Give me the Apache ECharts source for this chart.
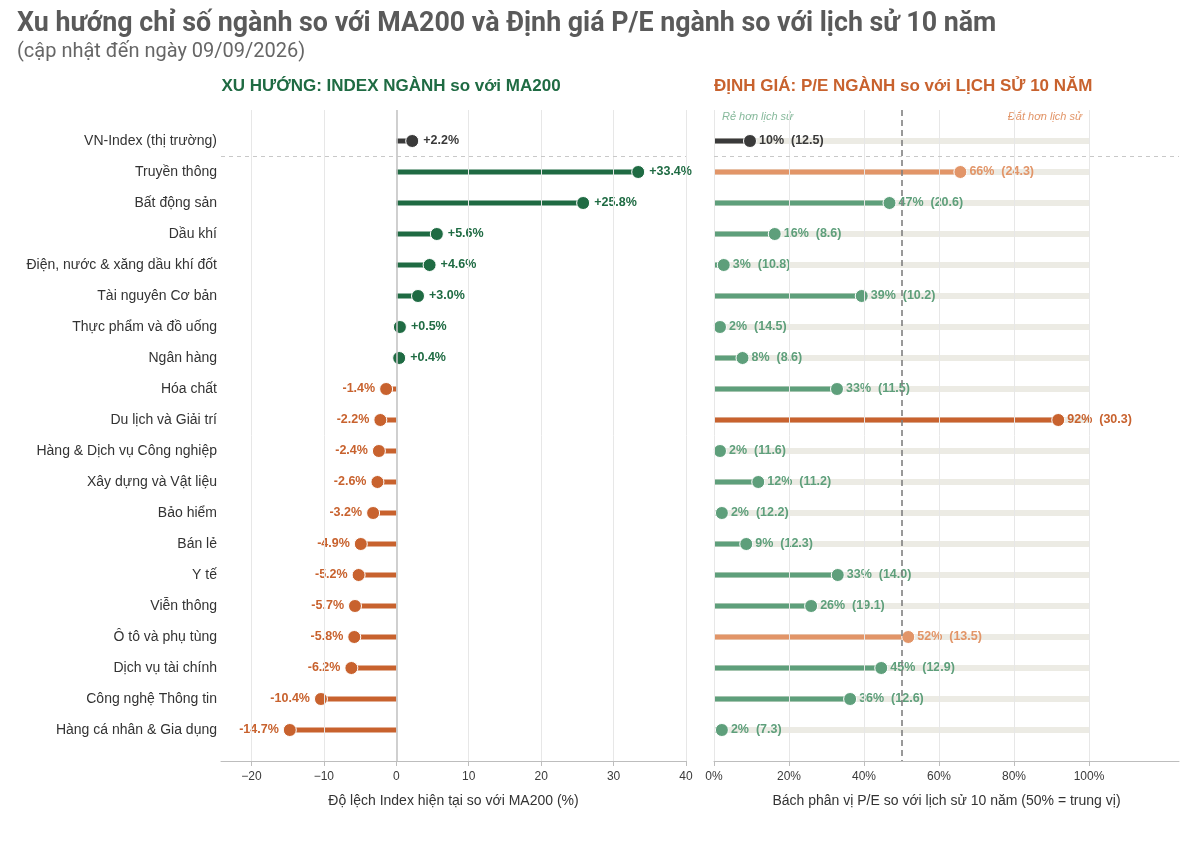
<!DOCTYPE html>
<html><head><meta charset="utf-8">
<script src="https://cdn.jsdelivr.net/npm/echarts@6/dist/echarts.min.js"></script>
<style>html,body{margin:0;padding:0;background:#fff}#c{width:1200px;height:843px}</style>
</head><body><div id="c"></div>
<script>
const sectors = ['VN-Index (thị trường)','Truyền thông','Bất động sản','Dầu khí','Điện, nước & xăng dầu khí đốt','Tài nguyên Cơ bản','Thực phẩm và đồ uống','Ngân hàng','Hóa chất','Du lịch và Giải trí','Hàng & Dịch vụ Công nghiệp','Xây dựng và Vật liệu','Bảo hiểm','Bán lẻ','Y tế','Viễn thông','Ô tô và phụ tùng','Dịch vụ tài chính','Công nghệ Thông tin','Hàng cá nhân & Gia dụng'];
const ma200Dev = [2.2,33.4,25.8,5.6,4.6,3.0,0.5,0.4,-1.4,-2.2,-2.4,-2.6,-3.2,-4.9,-5.2,-5.7,-5.8,-6.2,-10.4,-14.7];
const pePercentile = [9.6,65.7,46.8,16.2,2.6,39.4,1.6,7.6,32.8,91.8,1.6,11.8,2.1,8.6,33.0,25.9,51.8,44.6,36.3,2.1];
const peValue = [12.5,24.3,20.6,8.6,10.8,10.2,14.5,8.6,11.5,30.3,11.6,11.2,12.2,12.3,14.0,19.1,13.5,12.9,12.6,7.3];
const leftTicks = [-20,-10,0,10,20,30,40];
const rightTicks = [0,20,40,60,80,100];

const C_GRAY='#3a3a3a', C_GREEN='#1f6b43', C_ORANGE='#c8622e', C_LGREEN='#5e9f7b', C_LORANGE='#e29568';
const leftColor = i => i===0 ? C_GRAY : (ma200Dev[i] >= 0 ? C_GREEN : C_ORANGE);
const rightColor = i => i===0 ? C_GRAY : (pePercentile[i] < 50 ? C_LGREEN : (pePercentile[i] < 80 ? C_LORANGE : C_ORANGE));

const FONT = 'Liberation Sans, Arial, sans-serif';

function stem(colorFn, width){
  return function(params, api){
    const a = api.coord([0, api.value(1)]);
    const b = api.coord([api.value(0), api.value(1)]);
    return {type:'line', shape:{x1:a[0],y1:a[1],x2:b[0],y2:b[1]},
      style:{stroke: colorFn(params.dataIndex), lineWidth: width, lineCap:'butt'}};
  };
}
function track(params, api){
  const a = api.coord([0, api.value(1)]);
  const b = api.coord([api.value(0), api.value(1)]);
  return {type:'line', shape:{x1:a[0],y1:a[1],x2:b[0],y2:b[1]},
    style:{stroke:'#ecebe4', lineWidth:6, lineCap:'butt'}};
}

const leftStem = ma200Dev.map((v,i)=>[v,i]);
const rightStem = pePercentile.map((v,i)=>[v,i]);
const rightTrack = sectors.map((s,i)=>[100,i]);

const leftDots = ma200Dev.map((v,i)=>({
  value:[v,i], itemStyle:{color:leftColor(i), opacity:1},
  label:{show:true, position: v>=0?'right':'left', distance:4, color:leftColor(i),
    fontWeight:'bold', fontSize:12.5, fontFamily:FONT,
    formatter:(v>=0?'+':'')+v.toFixed(1)+'%'}
}));
const rightDots = pePercentile.map((v,i)=>({
  value:[v,i], itemStyle:{color:rightColor(i), opacity:1},
  label:{show:true, position:'right', distance:2, color:rightColor(i),
    fontWeight:'bold', fontSize:12.5, fontFamily:FONT,
    formatter: Math.round(v)+'%  ('+peValue[i].toFixed(1)+')'}
}));

const gridLine = {color:'#e7e7e7', width:1, type:'solid'};
const ml = (arr, extra) => ({silent:true, symbol:'none', label:{show:false}, animation:false, data:arr, ...(extra||{})});

const option = {
  animation:false,
  textStyle:{fontFamily:FONT},
  grid:[
    {left:221, top:110, width:465, height:651},
    {left:714, top:110, width:465, height:651}
  ],
  xAxis:[
    {gridIndex:0, type:'value', min:-24.2, max:40,
      splitLine:{show:false},
      axisLine:{show:true, onZero:false, lineStyle:{color:'#bdbdbd'}},
      axisTick:{show:true, customValues:leftTicks, length:5, lineStyle:{color:'#bdbdbd'}},
      axisLabel:{customValues:leftTicks, color:'#3a3a3a', fontSize:12, margin:10,
        formatter:v=> v<0 ? '\u2212'+Math.abs(v) : String(v)},
      name:'Độ lệch Index hiện tại so với MA200 (%)', nameLocation:'middle', nameGap:33,
      nameTextStyle:{color:'#333', fontSize:14}},
    {gridIndex:1, type:'value', min:0, max:124,
      splitLine:{show:false},
      axisLine:{show:true, onZero:false, lineStyle:{color:'#bdbdbd'}},
      axisTick:{show:true, customValues:rightTicks, length:5, lineStyle:{color:'#bdbdbd'}},
      axisLabel:{customValues:rightTicks, color:'#3a3a3a', fontSize:12, margin:10,
        formatter:v=> v+'%'},
      name:'Bách phân vị P/E so với lịch sử 10 năm (50% = trung vị)', nameLocation:'middle', nameGap:33,
      nameTextStyle:{color:'#333', fontSize:14}}
  ],
  yAxis:[
    {gridIndex:0, type:'value', min:-1, max:20, interval:1, inverse:true,
      axisLine:{show:false}, axisTick:{show:false}, splitLine:{show:false},
      axisLabel:{color:'#333', fontSize:14, margin:4,
        formatter:v=> (Number.isInteger(v) && sectors[v]) ? sectors[v] : ''}},
    {gridIndex:1, type:'value', min:-1, max:20, interval:1, inverse:true,
      axisLine:{show:false}, axisTick:{show:false}, splitLine:{show:false},
      axisLabel:{show:false}}
  ],
  graphic:[
    {type:'text', left:17, top:11, style:{text:'Xu hướng chỉ số ngành so với MA200 và Định giá P/E ngành so với lịch sử 10 năm',
      fill:'#5a5a5a', font:'bold 26.8px "Roboto", sans-serif'}},
    {type:'text', left:17, top:42, style:{text:'(cập nhật đến ngày 09/09/2026)',
      fill:'#666', font:'20px "Roboto", sans-serif'}},
    {type:'text', x:391, y:86, style:{text:'XU HƯỚNG: INDEX NGÀNH so với MA200', align:'center', verticalAlign:'middle',
      fill:'#1f6b43', font:'bold 17px "Liberation Sans", Arial, sans-serif'}},
    {type:'text', x:714, y:86, style:{text:'ĐỊNH GIÁ: P/E NGÀNH so với LỊCH SỬ 10 NĂM', align:'left', verticalAlign:'middle',
      fill:'#c8622e', font:'bold 17px "Liberation Sans", Arial, sans-serif'}},
    {type:'text', x:722, y:117, style:{text:'Rẻ hơn lịch sử', align:'left', verticalAlign:'middle',
      fill:'#86b99b', font:'italic 11px "Liberation Sans", Arial, sans-serif'}},
    {type:'text', x:1082, y:117, style:{text:'Đắt hơn lịch sử', align:'right', verticalAlign:'middle',
      fill:'#e29568', font:'italic 11px "Liberation Sans", Arial, sans-serif'}}
  ],
  series:[
    {type:'custom', xAxisIndex:0, yAxisIndex:0, z:1, data:[], renderItem:()=>null,
      markLine: ml(leftTicks.filter(t=>t!==0).map(t=>({xAxis:t, lineStyle:gridLine})).concat([
        {xAxis:0, lineStyle:{color:'#c4c4c4', width:1.6, type:'solid'}},
        {yAxis:0.5, lineStyle:{color:'#c8c8c8', width:1, type:[4,4]}}
      ]))},
    {type:'custom', xAxisIndex:0, yAxisIndex:0, z:3, data:leftStem, encode:{x:0,y:1}, renderItem:stem(leftColor,5)},
    {type:'scatter', xAxisIndex:0, yAxisIndex:0, z:4, symbolSize:13, data:leftDots,
      itemStyle:{borderColor:'#fff', borderWidth:1, opacity:1}},
    {type:'custom', xAxisIndex:1, yAxisIndex:1, z:1, data:rightTrack, encode:{x:0,y:1}, renderItem:track,
      markLine: ml(rightTicks.map(t=>({xAxis:t, lineStyle:gridLine})).concat([
        {yAxis:0.5, lineStyle:{color:'#c8c8c8', width:1, type:[4,4]}}
      ]))},
    {type:'custom', xAxisIndex:1, yAxisIndex:1, z:3, data:rightStem, encode:{x:0,y:1}, renderItem:stem(rightColor,5),
      markLine: ml([{xAxis:50, lineStyle:{color:'#808080', width:1.6, type:[6,4]}}])},
    {type:'scatter', xAxisIndex:1, yAxisIndex:1, z:4, symbolSize:13, data:rightDots,
      itemStyle:{borderColor:'#fff', borderWidth:1, opacity:1}}
  ]
};
const chart = echarts.init(document.getElementById('c'), null, {renderer:'canvas'});
chart.setOption(option);
</script>
</body></html>
